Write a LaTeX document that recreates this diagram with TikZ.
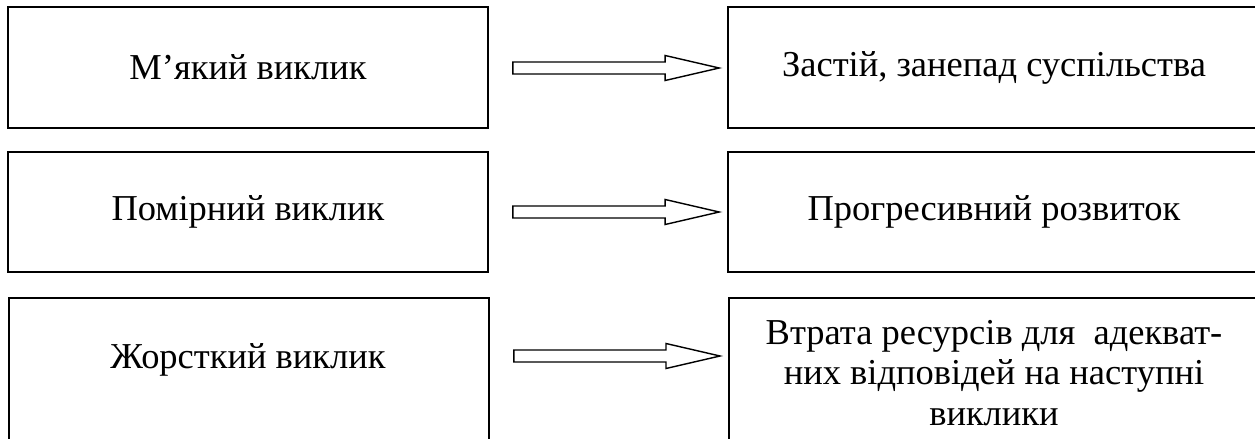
\documentclass[tikz,border=0pt]{standalone}
\usepackage{fontspec}
\setmainfont{Liberation Serif}
\usetikzlibrary{calc}

\tikzset{
    txt/.style={font=\fontsize{15.5}{17.2}\selectfont, inner sep=0pt},
    box/.style={txt, draw, line width=0.8pt, minimum width=204pt, minimum height=51pt},
    rbox/.style={box, minimum width=226pt},
    hollow/.style={draw, line width=0.6pt, fill=white, line join=miter}
}

% hollow block arrow from #1 to #2 at height #3
\newcommand{\hollowarrow}[3]{%
    \draw[hollow] ($(#1.east |- 0,#3)+(24,-6)$) -- ($(#2.west |- 0,#3)+(-62,-6)$)
        -- ($(#2.west |- 0,#3)+(-62,-12.5)$) -- ($(#2.west |- 0,#3)+(-8,0)$)
        -- ($(#2.west |- 0,#3)+(-62,12.5)$) -- ($(#2.west |- 0,#3)+(-62,6)$)
        -- ($(#1.east |- 0,#3)+(24,6)$) -- cycle;}

\begin{document}
\begin{tikzpicture}[x=0.425pt, y=-0.425pt]
    \useasboundingbox (0,0) rectangle (1255,439);

    % challenges
    \node[box, minimum height=51.4pt] (m1) at (248,67.5) {М’який виклик};
    \node[box] (m2) at (248,212) {Помірний виклик};
    \node[box, anchor=north west, minimum height=70pt] (m3) at (8,297) {};
    \node[txt] (m3text) at (248,360) {Жорсткий виклик};

    % responses
    \node[rbox, minimum height=51.4pt] (r1) at (994,67.5) {Застій, занепад суспільства};
    \node[rbox] (r2) at (994,212) {Прогресивний розвиток};
    \node[rbox, anchor=north west, minimum height=70pt] (r3) at (728,297) {};
    \node[txt, align=center] (r3text) at (994,373)
        {Втрата ресурсів для\ \ адекват-\\них відповідей на наступні\\виклики};

    % arrows
    \hollowarrow{m1}{r1}{68}
    \hollowarrow{m2}{r2}{212}
    \hollowarrow{m3}{r3}{356}
\end{tikzpicture}
\end{document}
